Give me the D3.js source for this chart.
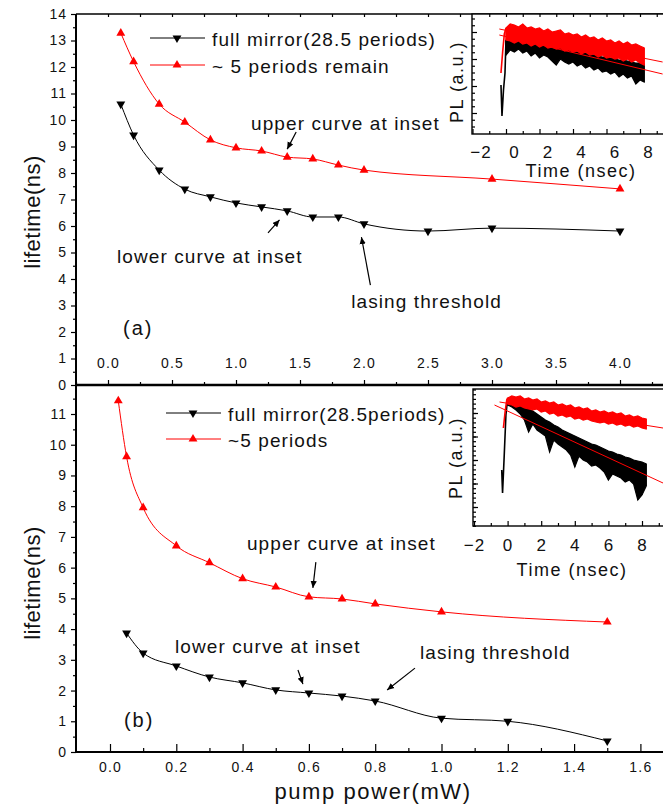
<!DOCTYPE html>
<html>
<head>
<meta charset="utf-8">
<script src="https://cdn.jsdelivr.net/npm/d3@7"></script>
<style>
  body { margin: 0; background: #fff; }
</style>
</head>
<body>
<div id="chart"></div>
<script>
// ---- panel (a) : lifetime vs pump power
const powerA_mirror = [0.1, 0.2, 0.4, 0.6, 0.8, 1.0, 1.2, 1.4, 1.6, 1.8, 2.0, 2.5, 3.0, 4.0];
const lifeA_mirror  = [10.6, 9.43, 8.11, 7.39, 7.1, 6.87, 6.72, 6.57, 6.34, 6.34, 6.08, 5.81, 5.92, 5.81];
const powerA_remain = [0.1, 0.2, 0.4, 0.6, 0.8, 1.0, 1.2, 1.4, 1.6, 1.8, 2.0, 3.0, 4.0];
const lifeA_remain  = [13.28, 12.2, 10.6, 9.92, 9.25, 8.95, 8.83, 8.6, 8.53, 8.3, 8.11, 7.77, 7.4];

// ---- panel (b)
const powerB_mirror = [0.05, 0.1, 0.2, 0.3, 0.4, 0.5, 0.6, 0.7, 0.8, 1.0, 1.2, 1.5];
const lifeB_mirror  = [3.87, 3.22, 2.8, 2.44, 2.25, 2.02, 1.92, 1.82, 1.66, 1.1, 1.0, 0.36];
const powerB_remain = [0.025, 0.05, 0.1, 0.2, 0.3, 0.4, 0.5, 0.6, 0.7, 0.8, 1.0, 1.5];
const lifeB_remain  = [11.43, 9.61, 7.95, 6.71, 6.16, 5.64, 5.37, 5.05, 4.98, 4.82, 4.56, 4.23];

// tick labels
const ticksA_x = [0, 0.5, 1, 1.5, 2, 2.5, 3, 3.5, 4];
const ticksA_y = [0, 1, 2, 3, 4, 5, 6, 7, 8, 9, 10, 11, 12, 13, 14];
const ticksB_x = [0, 0.2, 0.4, 0.6, 0.8, 1.0, 1.2, 1.4, 1.6];
const ticksB_y = [0, 1, 2, 3, 4, 5, 6, 7, 8, 9, 10, 11];
const ticksInset = [-2, 0, 2, 4, 6, 8];

// ---- insets: PL traces (log PL, arbitrary units), envelope read per 0.25 ns
const tGrid = [0, 0.25, 0.5, 0.75, 1, 1.25, 1.5, 1.75, 2, 2.25, 2.5, 2.75, 3, 3.25, 3.5, 3.75,
  4, 4.25, 4.5, 4.75, 5, 5.25, 5.5, 5.75, 6, 6.25, 6.5, 6.75, 7, 7.25, 7.5, 7.75, 8, 8.25];

// inset (a)
const redRiseA_t = [-0.3, -0.2, -0.1];
const redRiseA_v = [61, 82, 100];
const redHiA = [106,110,109,107,110,106,107,105,106,103,105,102,103,104,100,101,99,100,97,99,96,97,94,96,93,94,91,93,90,92,89,90,88,86];
const redLoA = [94,93,91,93,90,91,88,90,87,89,86,87,85,86,83,84,82,83,80,82,79,80,77,79,76,77,75,76,73,75,72,74,71,69];
const blackRiseA_t = [-0.3, -0.24, -0.15, -0.06];
const blackRiseA_v = [49, 18, 44, 61];
const blackHiA = [94,96,97,95,94,93,92,91,90,89,88,88,87,86,85,84,83,82,82,81,80,79,78,77,77,76,75,74,74,73,72,71,71,70];
const blackLoA = [79,84,82,85,81,83,78,81,76,79,77,73,69,75,72,70,72,68,70,66,68,64,66,62,63,60,62,57,60,56,58,50,54,52];
const fitA_t = [-0.4, 9.35];
const fitA_upper = [105, 72];
const fitA_lower = [99, 60];

// inset (b)
const redRiseB_t = [-0.25, -0.15, -0.05];
const redRiseB_v = [98, 114, 126];
const redHiB = [128,130,129,130,127,128,126,127,124,125,123,124,121,122,120,121,118,119,117,118,115,116,114,115,113,114,112,113,110,111,109,110,108,107];
const redLoB = [122,121,119,120,118,117,116,117,114,115,112,113,110,111,109,110,107,108,106,107,105,104,103,104,102,103,101,102,100,101,99,100,98,97];
const blackRiseB_t = [-0.35, -0.3, -0.2, -0.1];
const blackRiseB_v = [56, 33, 71, 111];
const blackHiB = [127,126,125,122,120,117,115,112,109,106,104,101,99,96,94,92,90,88,86,84,82,81,79,77,75,74,72,71,69,68,66,65,64,62];
const blackLoB = [121,119,116,112,106,94,102,96,93,90,74,86,82,79,76,71,59,70,66,64,60,61,58,54,46,52,50,48,44,46,42,26,31,40];
const fitB_t_black = [-0.78, 9.25];
const fitB_black = [121, 43];
const fitB_t_red = [-0.48, 9.25];
const fitB_red = [124, 98];

const W = 663, H = 806;
const font = '"Liberation Sans", Arial, sans-serif';
const red = '#ff0000';
const ink = '#111';
const left = 76;

const svg = d3.select('#chart').append('svg')
  .attr('width', W)
  .attr('height', H)
  .style('font-family', font);

svg.append('defs').append('marker')
  .attr('id', 'head')
  .attr('viewBox', '0 0 10 10')
  .attr('refX', 10).attr('refY', 5)
  .attr('markerWidth', 7).attr('markerHeight', 7)
  .attr('markerUnits', 'userSpaceOnUse')
  .attr('orient', 'auto')
  .append('path')
  .attr('d', 'M0,0.5L10,5L0,9.5Z')
  .attr('fill', '#000');

// scales
const xA = d3.scaleLinear().domain([0, 4]).range([108, 620]);
const yA = d3.scaleLinear().domain([0, 14]).range([385, 14]);
const xB = d3.scaleLinear().domain([0, 1.6]).range([110, 640.4]);
const yB = d3.scaleLinear().domain([0, 11]).range([752, 414]);

function styleAxis(g, size, ls) {
  g.select('.domain').remove();
  g.selectAll('.tick line').attr('stroke', '#000').attr('stroke-width', 1.2);
  g.selectAll('.tick text')
    .attr('fill', ink)
    .attr('font-family', font)
    .attr('font-size', size)
    .style('letter-spacing', ls + 'px');
}

function series(x, y, xs, ys, color, down) {
  const pts = xs.map((v, i) => [x(v), y(ys[i])]);
  svg.append('path')
    .attr('d', d3.line().curve(d3.curveMonotoneX)(pts))
    .attr('fill', 'none')
    .attr('stroke', color)
    .attr('stroke-width', 1);
  svg.append('g').selectAll('path')
    .data(pts)
    .join('path')
    .attr('d', d3.symbol(d3.symbolTriangle, 34)())
    .attr('transform', d => `translate(${d[0]},${d[1]})` + (down ? ' rotate(180)' : ''))
    .attr('fill', color);
}

function label(txt, x, y, size, ls, anchor) {
  return svg.append('text')
    .text(txt)
    .attr('x', x).attr('y', y)
    .attr('font-size', size)
    .attr('fill', ink)
    .attr('text-anchor', anchor || 'start')
    .style('letter-spacing', ls + 'px');
}

function arrow(x1, y1, x2, y2) {
  svg.append('line')
    .attr('x1', x1).attr('y1', y1).attr('x2', x2).attr('y2', y2)
    .attr('stroke', '#000').attr('stroke-width', 1.2)
    .attr('marker-end', 'url(#head)');
}

function legend(x, y, text, color, down) {
  svg.append('line')
    .attr('x1', x).attr('x2', x + 55).attr('y1', y).attr('y2', y)
    .attr('stroke', color).attr('stroke-width', 1);
  svg.append('path')
    .attr('d', d3.symbol(d3.symbolTriangle, 34)())
    .attr('transform', `translate(${x + 27},${y})` + (down ? ' rotate(180)' : ''))
    .attr('fill', color);
  label(text, x + 62, y + 8, 19, 1.1);
}

// ---------------- panel (a) axes
svg.append('g').attr('transform', `translate(${left},0)`)
  .call(d3.axisLeft(yA).tickValues(ticksA_y).tickSize(5).tickPadding(4).tickFormat(d3.format('d')))
  .call(g => styleAxis(g, 14, 1));
svg.append('g').attr('transform', `translate(${left},0)`)
  .call(d3.axisLeft(yA).tickValues(d3.range(0.5, 14, 1)).tickSize(3).tickFormat(''))
  .call(g => styleAxis(g, 14, 0));
svg.append('g').attr('transform', 'translate(0,385)')
  .call(d3.axisTop(xA).tickValues(ticksA_x).tickSize(5).tickPadding(12).tickFormat(d3.format('.1f')))
  .call(g => styleAxis(g, 14, 1.2));
svg.append('g').attr('transform', 'translate(0,385)')
  .call(d3.axisTop(xA).tickValues(d3.range(-0.25, 4.4, 0.5)).tickSize(3).tickFormat(''))
  .call(g => styleAxis(g, 14, 0));
svg.append('g').attr('transform', 'translate(0,14)')
  .call(d3.axisBottom(xA).tickValues(d3.range(0, 4.4, 0.25)).tickSize(3).tickFormat(''))
  .call(g => styleAxis(g, 14, 0));

// ---------------- panel (b) axes
svg.append('g').attr('transform', `translate(${left},0)`)
  .call(d3.axisLeft(yB).tickValues(ticksB_y).tickSize(5).tickPadding(4).tickFormat(d3.format('d')))
  .call(g => styleAxis(g, 14, 1));
svg.append('g').attr('transform', `translate(${left},0)`)
  .call(d3.axisLeft(yB).tickValues(d3.range(0.5, 12, 1)).tickSize(3).tickFormat(''))
  .call(g => styleAxis(g, 14, 0));
svg.append('g').attr('transform', 'translate(0,752)')
  .call(d3.axisBottom(xB).tickValues(ticksB_x).tickSizeInner(-8).tickSizeOuter(0).tickPadding(10).tickFormat(d3.format('.1f')))
  .call(g => styleAxis(g, 14, 1.2));
svg.append('g').attr('transform', 'translate(0,752)')
  .call(d3.axisBottom(xB).tickValues(d3.range(0.1, 1.65, 0.2)).tickSizeInner(-4).tickSizeOuter(0).tickFormat(''))
  .call(g => styleAxis(g, 14, 0));

// frame lines
const frame = [
  [left, 14, W, 14, 1.3],
  [left, 14, left, 752, 2],
  [left, 385, W, 385, 2.5],
  [left, 752, W, 752, 2]
];
svg.append('g').selectAll('line').data(frame).join('line')
  .attr('x1', d => d[0]).attr('y1', d => d[1]).attr('x2', d => d[2]).attr('y2', d => d[3])
  .attr('stroke', '#000').attr('stroke-width', d => d[4]);

// axis titles
label('lifetime(ns)', 0, 0, 22, 0.5, 'middle').attr('transform', 'translate(40,212) rotate(-90)');
label('lifetime(ns)', 0, 0, 22, 0.5, 'middle').attr('transform', 'translate(40,583) rotate(-90)');
label('pump power(mW)', 373, 799, 22, 1.6, 'middle');

// ---------------- panel (a) data
series(xA, yA, powerA_mirror, lifeA_mirror, '#000', true);
series(xA, yA, powerA_remain, lifeA_remain, red, false);
legend(150, 38, 'full mirror(28.5 periods)', '#000', true);
legend(150, 65, '~ 5 periods remain', red, false);

label('upper curve at inset', xA(1.117), yA(9.62), 19, 1.1);
arrow(xA(1.47), yA(9.55), xA(1.40), yA(8.9));
label('lower curve at inset', xA(0.07), yA(4.6), 19, 1.1);
arrow(xA(1.25), yA(5.74), xA(1.34), yA(6.23));
label('lasing threshold', xA(1.9), yA(2.9), 19, 1.1);
arrow(xA(2.05), yA(3.77), xA(1.98), yA(5.58));
label('(a)', xA(0.117), yA(1.89), 20, 2);

// ---------------- panel (b) data
series(xB, yB, powerB_mirror, lifeB_mirror, '#000', true);
series(xB, yB, powerB_remain, lifeB_remain, red, false);
legend(166, 413, 'full mirror(28.5periods)', '#000', true);
legend(166, 439, '~5 periods', red, false);

label('upper curve at inset', xB(0.413), yB(6.57), 19, 1.1);
arrow(xB(0.621), yB(6.18), xB(0.612), yB(5.34));
label('lower curve at inset', xB(0.196), yB(3.22), 19, 1.1);
arrow(xB(0.567), yB(2.67), xB(0.582), yB(2.21));
label('lasing threshold', xB(0.935), yB(3.03), 19, 1.1);
arrow(xB(0.92), yB(2.73), xB(0.836), yB(2.02));
label('(b)', xB(0.042), yB(0.81), 20, 2);

// ---------------- insets
function inset(o) {
  const x = o.x, y = o.y;
  svg.append('rect')
    .attr('x', o.left).attr('y', o.top)
    .attr('width', W - o.left + 5).attr('height', o.bottom - o.top)
    .attr('fill', '#fff').attr('stroke', '#000').attr('stroke-width', 1.4);

  svg.append('clipPath').attr('id', o.id)
    .append('rect')
    .attr('x', o.left).attr('y', o.top)
    .attr('width', W - o.left).attr('height', o.bottom - o.top);
  const g = svg.append('g').attr('clip-path', `url(#${o.id})`);

  o.traces.forEach(tr => {
    // noisy band: filled envelope with its jagged edges stroked
    const area = d3.area()
      .x(t => x(t))
      .y0((t, i) => y(tr.lo[i]))
      .y1((t, i) => y(tr.hi[i]));
    g.append('path')
      .attr('d', area(tGrid))
      .attr('fill', tr.color)
      .attr('stroke', tr.color)
      .attr('stroke-width', 1.2)
      .attr('stroke-linejoin', 'miter');
    // initial rise into the band
    const pts = tr.riseT.map((t, i) => [x(t), y(tr.riseV[i])]);
    pts.push([x(tGrid[0]), y(tr.hi[0])]);
    g.append('path')
      .attr('d', d3.line()(pts))
      .attr('fill', 'none')
      .attr('stroke', tr.color)
      .attr('stroke-width', 1.6);
    // per-sample vertical strokes for the trace texture
    g.append('g').selectAll('line')
      .data(tGrid)
      .join('line')
      .attr('x1', t => x(t)).attr('x2', t => x(t))
      .attr('y1', (t, i) => y(tr.hi[i])).attr('y2', (t, i) => y(tr.lo[i]))
      .attr('stroke', tr.color).attr('stroke-width', 1);
  });

  o.fits.forEach(f => {
    g.append('line')
      .attr('x1', x(f.t[0])).attr('y1', y(f.v[0]))
      .attr('x2', x(f.t[1])).attr('y2', y(f.v[1]))
      .attr('stroke', red).attr('stroke-width', 1);
  });

  // x ticks
  svg.append('g').attr('transform', `translate(0,${o.bottom})`)
    .call(d3.axisBottom(x).tickValues(ticksInset).tickSizeInner(-5).tickSizeOuter(0).tickPadding(o.pad).tickFormat(d3.format('d')))
    .call(gg => styleAxis(gg, 17, 1))
    .call(gg => gg.selectAll('.tick text').attr('dx', o.labelShift));
  svg.append('g').attr('transform', `translate(0,${o.bottom})`)
    .call(d3.axisBottom(x).tickValues(d3.range(-1, 9.5, 2)).tickSizeInner(-3).tickSizeOuter(0).tickFormat(''))
    .call(gg => styleAxis(gg, 17, 0));
  if (o.topTicks) {
    svg.append('g').attr('transform', `translate(0,${o.top})`)
      .call(d3.axisBottom(x).tickValues(d3.range(-1, 9.5, 1)).tickSize(3).tickFormat(''))
      .call(gg => styleAxis(gg, 17, 0));
  }
  // y ticks (log PL)
  svg.append('g').attr('transform', `translate(${o.left},0)`)
    .call(d3.axisLeft(y).tickValues(o.majors).tickSizeInner(-5).tickSizeOuter(0).tickFormat(''))
    .call(gg => styleAxis(gg, 17, 0));
  svg.append('g').attr('transform', `translate(${o.left},0)`)
    .call(d3.axisLeft(y).tickValues(o.minors).tickSizeInner(-3).tickSizeOuter(0).tickFormat(''))
    .call(gg => styleAxis(gg, 17, 0));

  label('PL (a.u.)', 0, 0, 18, 1.5, 'middle').attr('transform', `translate(${o.plX},${o.plY}) rotate(-90)`);
  label('Time (nsec)', o.timeX, o.timeY, 18, 1.5, 'middle');
}

const yIa = d3.scaleLinear().domain([0, 120]).range([134, 14]);
inset({
  id: 'clipA', left: 472, top: 14, bottom: 134,
  x: d3.scaleLinear().domain([-2, 8]).range([472.5, 640]),
  y: yIa,
  traces: [
    { color: '#000', riseT: blackRiseA_t, riseV: blackRiseA_v, hi: blackHiA, lo: blackLoA },
    { color: red, riseT: redRiseA_t, riseV: redRiseA_v, hi: redHiA, lo: redLoA }
  ],
  fits: [{ t: fitA_t, v: fitA_upper }, { t: fitA_t, v: fitA_lower }],
  pad: 12, labelShift: 8, topTicks: true,
  majors: [21, 48, 75, 102],
  minors: d3.range(-2, 18).map(i => 21 + i * 6.75).filter(v => v > 0 && v < 120 && (v - 21) % 27 !== 0),
  plX: 463, plY: 82, timeX: 581, timeY: 177
});

const yIb = d3.scaleLinear().domain([0, 137]).range([526, 389]);
inset({
  id: 'clipB', left: 473, top: 389, bottom: 526,
  x: d3.scaleLinear().domain([-2, 8]).range([474, 642]),
  y: yIb,
  traces: [
    { color: '#000', riseT: blackRiseB_t, riseV: blackRiseB_v, hi: blackHiB, lo: blackLoB },
    { color: red, riseT: redRiseB_t, riseV: redRiseB_v, hi: redHiB, lo: redLoB }
  ],
  fits: [{ t: fitB_t_black, v: fitB_black }, { t: fitB_t_red, v: fitB_red }],
  pad: 13, labelShift: 0, topTicks: false,
  majors: [19, 42.5, 66, 89.5, 113],
  minors: d3.range(-4, 30).map(i => 19 + i * 4.7).filter(v => v > 0 && v < 137),
  plX: 462, plY: 458, timeX: 572, timeY: 576
});
</script>
</body>
</html>
